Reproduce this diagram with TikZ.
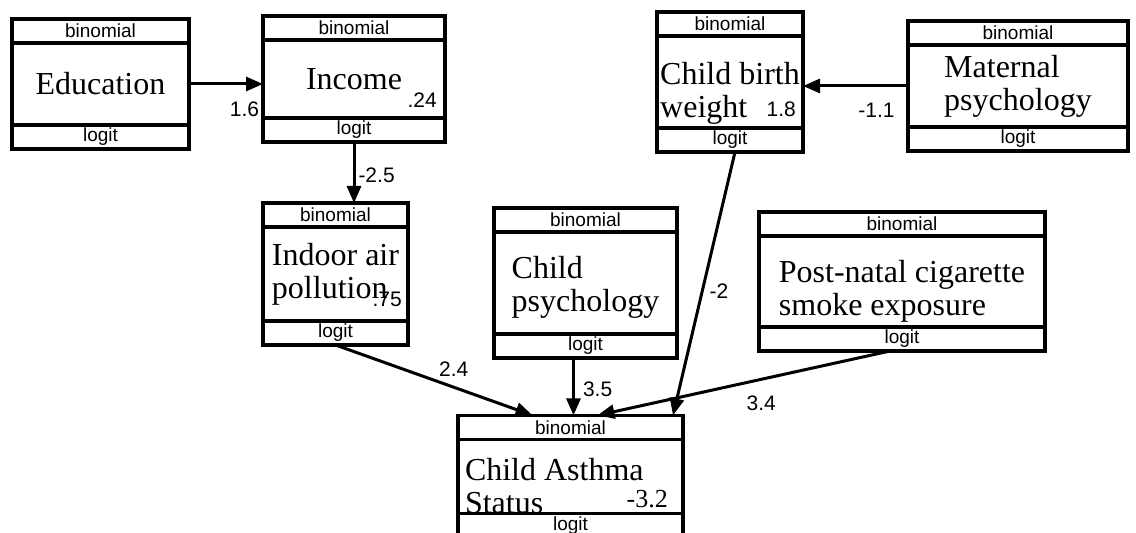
\documentclass[tikz,border=0pt]{standalone}
\usepackage{fontspec}
\setmainfont{Liberation Serif}
\setsansfont{Liberation Sans}
\usetikzlibrary{positioning,arrows.meta}

\begin{document}
\begin{tikzpicture}[
    x=1pt, y=1pt,
    var/.style={rectangle, draw, line width=3.5pt, outer sep=0pt, inner sep=0pt, align=left, font=\fontsize{32}{33}\selectfont},
    part/.style={rectangle, draw, line width=3.5pt, outer sep=0pt, inner sep=0pt, minimum height=24pt, font=\sffamily\fontsize{19}{20}\selectfont},
    coef/.style={font=\sffamily\fontsize{21}{22}\selectfont, inner sep=3pt},
    relation/.style={-{Triangle[length=17pt, width=14pt]}, line width=3pt}
  ]
    \useasboundingbox (0,0) rectangle (1136,533);
    \clip (0,0) rectangle (1136,533);

    % Row 1: Education, Income, Child birth weight, Maternal psychology
    \node[var, minimum width=177pt, minimum height=82pt] (edu) at (100.5,449) {Education};
    \node[part, minimum width=177pt, above=0pt of edu] (eduH) {binomial};
    \node[part, minimum width=177pt, below=0pt of edu] (eduF) {logit};

    \node[var, minimum width=182pt, minimum height=78pt] (inc) at (354,454) {Income};
    \node[part, minimum width=182pt, above=0pt of inc] (incH) {binomial};
    \node[part, minimum width=182pt, below=0pt of inc] (incF) {logit};
    \node[coef, anchor=base east] (incInt) at ([shift={(-5pt,10pt)}]inc.south east) {.24};

    \node[var, minimum width=146pt, minimum height=92pt] (bw) at (730,451) {\rule{0pt}{45pt}Child birth\\weight};
    \node[part, minimum width=146pt, above=0pt of bw] (bwH) {binomial};
    \node[part, minimum width=146pt, below=0pt of bw] (bwF) {logit};
    \node[coef, anchor=base east] (bwInt) at ([shift={(-4pt,11pt)}]bw.south east) {1.8};

    \node[var, minimum width=220pt, minimum height=82pt] (mat) at (1018,447) {Maternal\\psychology};
    \node[part, minimum width=220pt, above=0pt of mat] (matH) {binomial};
    \node[part, minimum width=220pt, below=0pt of mat] (matF) {logit};

    % Row 2: Indoor air pollution, Child psychology, Post-natal smoke
    \node[var, minimum width=145pt, minimum height=94pt] (iap) at (335.5,259) {Indoor air\\pollution};
    \node[part, minimum width=145pt, above=0pt of iap] (iapH) {binomial};
    \node[part, minimum width=145pt, below=0pt of iap] (iapF) {logit};
    \node[coef, anchor=base east] (iapInt) at ([shift={(-3pt,14pt)}]iap.south east) {.75};

    \node[var, minimum width=183pt, minimum height=102pt] (cp) at (585.5,250) {\rule{0pt}{30pt}Child\\psychology};
    \node[part, minimum width=183pt, above=0pt of cp] (cpH) {binomial};
    \node[part, minimum width=183pt, below=0pt of cp] (cpF) {logit};

    \node[var, minimum width=286pt, minimum height=91pt] (pn) at (902,251.5) {\rule{0pt}{42pt}Post-natal cigarette\\smoke exposure};
    \node[part, minimum width=286pt, above=0pt of pn] (pnH) {binomial};
    \node[part, minimum width=286pt, below=0pt of pn] (pnF) {logit};

    % Row 3: Child Asthma Status
    \node[var, minimum width=225pt, minimum height=73pt, text width=211pt, align=flush left] (cas) at (570.5,56.5) {\rule{0pt}{41pt}Child Asthma\\Status};
    \node[part, minimum width=225pt, above=0pt of cas] (casH) {binomial};
    \node[part, minimum width=225pt, below=0pt of cas] (casF) {logit};
    \node[anchor=base east, inner sep=0pt, font=\fontsize{26}{27}\selectfont] (casInt) at ([shift={(-15pt,6pt)}]cas.south east) {-3.2};

    % Relations
    \draw[relation] (edu.east) -- node[coef, pos=0.75, below=13pt] (cEduInc) {1.6} (edu.east -| inc.west);
    \draw[relation] (mat.west) -- node[coef, pos=0.3, below=13pt] (cMatBw) {-1.1} (mat.west -| bw.east);
    \draw[relation] (incF.south) -- node[coef, pos=0.55, right] (cIncIap) {-2.5} (incF.south |- iapH.north);

    \draw[relation] (iapF.south) -- node[coef, pos=0.6, above=6pt] (cIapCas) {2.4} ([xshift=-38pt]casH.north);
    \draw[relation] ([xshift=-12pt]cpF.south) -- node[coef, pos=0.55, right=5pt] (cCpCas) {3.5} ([xshift=-12pt]cpF.south |- casH.north);
    \draw[relation] ([xshift=5pt]bwF.south) -- node[coef, pos=0.53, right=3pt] (cBwCas) {-2} ([xshift=-10pt]casH.north east);
    \draw[relation] ([xshift=-12pt]pnF.south) -- node[coef, pos=0.44, below=12pt] (cPnCas) {3.4} ([xshift=27pt]casH.north);
  \end{tikzpicture}
\end{document}
